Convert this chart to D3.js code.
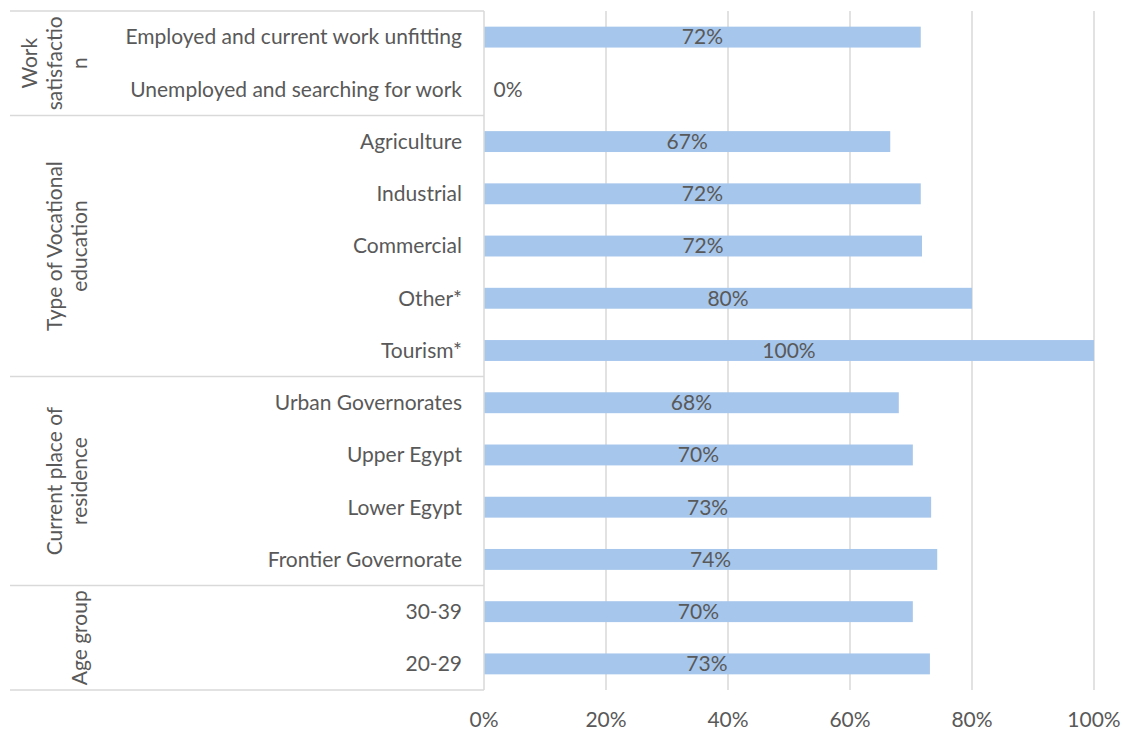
<!DOCTYPE html>
<html><head><meta charset="utf-8">
<script src="https://cdn.jsdelivr.net/npm/d3@7"></script>
<style>body{margin:0;background:#fff}svg{display:block}</style>
</head><body>
<svg id="c" width="1123" height="731"></svg>
<script>
const categories = ["Employed and current work unfitting","Unemployed and searching for work","Agriculture","Industrial","Commercial","Other*","Tourism*","Urban Governorates","Upper Egypt","Lower Egypt","Frontier Governorate","30-39","20-29"];
const values = [71.6, 0, 66.6, 71.6, 71.8, 80, 100, 68, 70.3, 73.3, 74.3, 70.3, 73.1];
const labels = ["72%","0%","67%","72%","72%","80%","100%","68%","70%","73%","74%","70%","73%"];
const groups = [
  {lines:["Work","satisfactio","n"], first:0, last:1},
  {lines:["Type of Vocational","education"], first:2, last:6},
  {lines:["Current place of","residence"], first:7, last:10},
  {lines:["Age group"], first:11, last:12}
];
const ticks = [0,20,40,60,80,100];

const font = "Lato, sans-serif";
const fs = 21;
const txt = "#595959", grid = "#d9d9d9", bar = "#a6c6ec";
const svg = d3.select("#c");
const x = d3.scaleLinear().domain([0,100]).range([484,1094]);
const y = d3.scaleBand().domain(categories).range([11,690]).paddingInner(0.6).paddingOuter(0.3);
const yb = d3.scaleBand().domain(categories).range([11,690]);

// gridlines
svg.append("g").selectAll("line").data(ticks.slice(1)).join("line")
  .attr("x1",d=>x(d)).attr("x2",d=>x(d)).attr("y1",11).attr("y2",690)
  .attr("stroke",grid).attr("stroke-width",1.5);

// bars
svg.append("g").selectAll("rect").data(values).join("rect")
  .attr("x",x(0)).attr("y",(d,i)=>y(categories[i]))
  .attr("width",d=>x(d)-x(0)).attr("height",y.bandwidth()).attr("fill",bar);

// category table lines
const seps = [11, ...groups.map(g=>yb(categories[g.last])+yb.bandwidth())];
svg.append("g").selectAll("line").data(seps).join("line")
  .attr("x1",10).attr("x2",484).attr("y1",d=>d).attr("y2",d=>d)
  .attr("stroke",grid).attr("stroke-width",1.5);
svg.append("line").attr("x1",484).attr("x2",484).attr("y1",11).attr("y2",690)
  .attr("stroke",grid).attr("stroke-width",1.5);

// category labels
svg.append("g").selectAll("text").data(categories).join("text")
  .attr("x",462).attr("y",d=>yb(d)+yb.bandwidth()/2).attr("dy","0.35em")
  .attr("text-anchor","end").attr("font-family",font).attr("font-size",fs).attr("fill",txt)
  .text(d=>d);

// group labels (rotated)
groups.forEach(g=>{
  const cy = (yb(categories[g.first]) + yb(categories[g.last]) + yb.bandwidth())/2;
  const n = g.lines.length;
  g.lines.forEach((l,k)=>{
    const cx = 80 - (n-1-k)*25;
    svg.append("text").attr("transform",`translate(${cx},${cy}) rotate(-90)`)
      .attr("text-anchor","middle").attr("dy","0.35em")
      .attr("font-family",font).attr("font-size",fs).attr("fill",txt).text(l);
  });
});

// data labels
svg.append("g").selectAll("text").data(values).join("text")
  .attr("x",(d,i)=> d===0 ? x(0)+24 : x(d/2))
  .attr("y",(d,i)=>yb(categories[i])+yb.bandwidth()/2).attr("dy","0.35em")
  .attr("text-anchor","middle").attr("font-family",font).attr("font-size",fs).attr("fill",txt)
  .text((d,i)=>labels[i]);

// x axis labels
svg.append("g").selectAll("text").data(ticks).join("text")
  .attr("x",d=>x(d)).attr("y",720).attr("dy","0.35em").attr("text-anchor","middle")
  .attr("font-family",font).attr("font-size",fs).attr("fill",txt).text(d=>d+"%");
</script>
</body></html>
